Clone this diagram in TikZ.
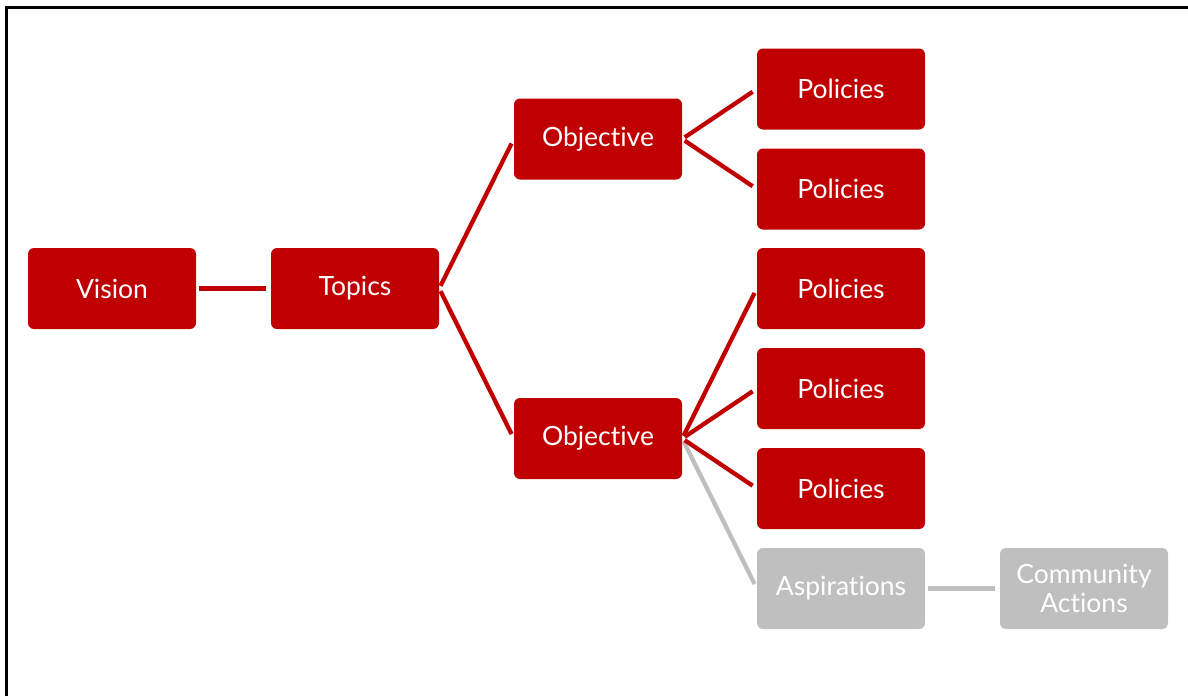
\documentclass[tikz,border=0pt]{standalone}
\usepackage{fontspec}
\setmainfont{Lato}[Ligatures={NoCommon,NoRare,NoDiscretionary,NoContextual}]
\definecolor{boxred}{HTML}{C00000}
\definecolor{boxgrey}{HTML}{BFBFBF}
\tikzset{
  box/.style={rectangle, rounded corners=6pt, minimum width=168pt, minimum height=81pt, inner sep=0pt, text=white, font=\fontsize{26.5}{29}\selectfont, align=center},
  redbox/.style={box, fill=boxred},
  greybox/.style={box, fill=boxgrey},
  redlink/.style={draw=boxred, line width=4.3pt, shorten <=3pt, shorten >=5pt},
  greylink/.style={draw=boxgrey, line width=4.3pt, shorten <=3pt, shorten >=5pt},
}
\begin{document}
\begin{tikzpicture}[x=1pt,y=-1pt]
\useasboundingbox (0,0) rectangle (1188,696);
\draw[line width=2.7pt] (6.7,696) -- (6.7,7.3) -- (1188,7.3);
\node[redbox] (vision) at (112,288.5) {Vision};
\node[redbox] (topics) at (355,288.5) {Topics};
\node[redbox] (obj1) at (598,139) {Objective};
\node[redbox] (obj2) at (598,438.5) {Objective};
\node[redbox] (p1) at (841,89) {Policies};
\node[redbox] (p2) at (841,189) {Policies};
\node[redbox] (p3) at (841,288.5) {Policies};
\node[redbox] (p4) at (841,388.5) {Policies};
\node[redbox] (p5) at (841,488.5) {Policies};
\node[greybox] (asp) at (841,588.5) {Aspirations};
\node[greybox] (comm) at (1084,588.5) {Community\\Actions};
\draw[redlink] (vision.east) -- (topics.west);
\draw[redlink] (topics.east) -- (obj1.west);
\draw[redlink] (topics.east) -- (obj2.west);
\draw[redlink] (obj1.east) -- (p1.west);
\draw[redlink] (obj1.east) -- (p2.west);
\draw[greylink] (obj2.east) -- (asp.west);
\draw[redlink] (obj2.east) -- (p3.west);
\draw[redlink] (obj2.east) -- (p4.west);
\draw[redlink] (obj2.east) -- (p5.west);
\draw[greylink] (asp.east) -- (comm.west);
\end{tikzpicture}
\end{document}
